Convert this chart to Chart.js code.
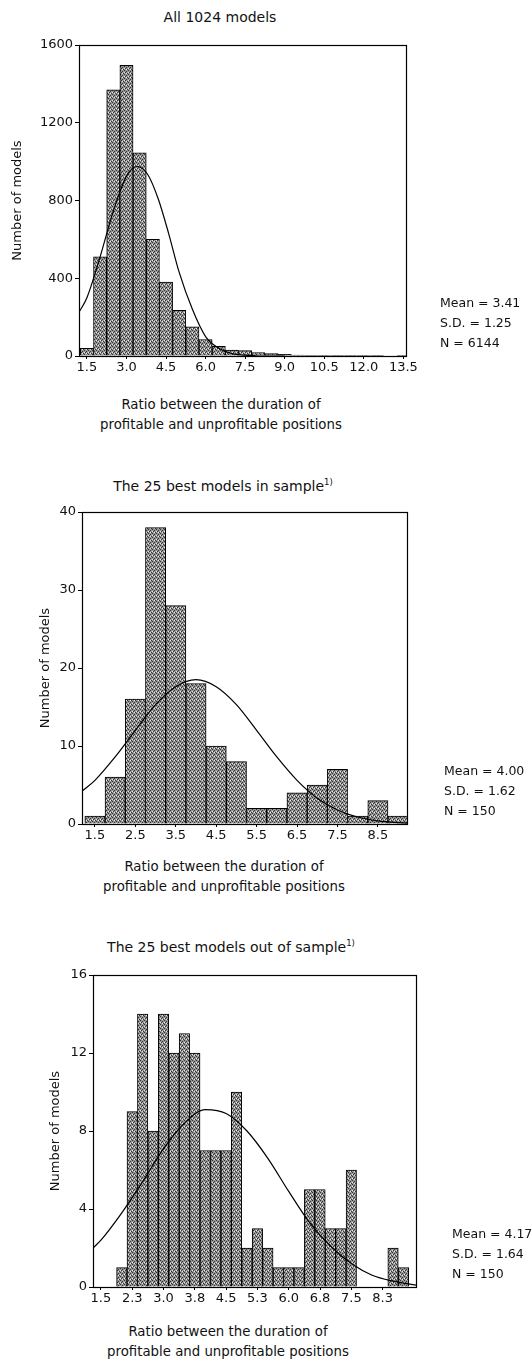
<!DOCTYPE html>
<html>
<head>
<meta charset="utf-8">
<script src="https://cdn.jsdelivr.net/npm/chart.js@4.4.0/dist/chart.umd.min.js"></script>
<style>
    body { margin: 0; background: #fff; }
    #page { position: relative; width: 532px; height: 1363px; overflow: hidden;
            font-family: 'DejaVu Sans', sans-serif; font-size: 12.5px; color: #111; }
    .box { position: absolute; left: 0; width: 532px; }
    .title, .xtitle { position: absolute; text-align: center; line-height: 20px; white-space: nowrap; }
    .title { font-size: 14px; }
    .xtitle { font-size: 13.3px; }
    .stats { position: absolute; line-height: 20px; white-space: nowrap; }
    sup { font-size: 8.5px; vertical-align: 6px; line-height: 0; }
</style>
</head>
<body>
<div id="page">
    <div class="title" style="left:0;width:440px;top:7px">All 1024 models</div>
    <div class="box" style="top:30px;height:351px"><canvas id="c1" width="532" height="351"></canvas></div>
    <div class="stats" style="left:440px;top:293px">Mean = 3.41<br>S.D. = 1.25<br>N = 6144</div>
    <div class="xtitle" style="left:0;width:442px;top:395px">Ratio between the duration of<br>profitable and unprofitable positions</div>

    <div class="title" style="left:0;width:446px;top:476px">The 25 best models in sample<sup>1)</sup></div>
    <div class="box" style="top:497px;height:352px"><canvas id="c2" width="532" height="352"></canvas></div>
    <div class="stats" style="left:444px;top:761px">Mean = 4.00<br>S.D. = 1.62<br>N = 150</div>
    <div class="xtitle" style="left:0;width:448px;top:857px">Ratio between the duration of<br>profitable and unprofitable positions</div>

    <div class="title" style="left:0;width:462px;top:937px">The 25 best models out of sample<sup>1)</sup></div>
    <div class="box" style="top:960px;height:352px"><canvas id="c3" width="532" height="352"></canvas></div>
    <div class="stats" style="left:452px;top:1224px">Mean = 4.17<br>S.D. = 1.64<br>N = 150</div>
    <div class="xtitle" style="left:0;width:456px;top:1322px">Ratio between the duration of<br>profitable and unprofitable positions</div>
</div>

<script>
// All 1024 models (bins of 0.5)
const bins1 = [1.5, 2.0, 2.5, 3.0, 3.5, 4.0, 4.5, 5.0, 5.5, 6.0, 6.5, 7.0, 7.5, 8.0, 8.5, 9.0, 9.5, 10.0, 10.5, 11.0, 11.5, 12.0, 12.5, 13.0, 13.5];
const counts1 = [40, 510, 1370, 1495, 1045, 600, 380, 235, 150, 85, 50, 30, 28, 18, 12, 8, 5, 3, 2, 2, 2, 1, 1, 0, 1];
const curveX1 = [1.2, 1.5, 2.0, 2.5, 3.0, 3.4, 3.8, 4.2, 4.6, 5.0, 5.5, 6.0, 6.5, 7.0, 7.5, 8.0, 9.0];
const curveY1 = [225, 300, 510, 745, 925, 975, 935, 810, 630, 430, 240, 100, 40, 12, 4, 0, 0];
const xTicks1 = [1.5, 3.0, 4.5, 6.0, 7.5, 9.0, 10.5, 12.0, 13.5];
const xLabels1 = ['1.5', '3.0', '4.5', '6.0', '7.5', '9.0', '10.5', '12.0', '13.5'];
const yTicks1 = [0, 400, 800, 1200, 1600];

// The 25 best models in sample (bins of 0.5)
const bins2 = [1.5, 2.0, 2.5, 3.0, 3.5, 4.0, 4.5, 5.0, 5.5, 6.0, 6.5, 7.0, 7.5, 8.0, 8.5, 9.0];
const counts2 = [1, 6, 16, 38, 28, 18, 10, 8, 2, 2, 4, 5, 7, 1, 3, 1];
const curveX2 = [1.18, 1.5, 2.0, 2.5, 3.0, 3.5, 4.0, 4.5, 5.0, 5.5, 6.0, 6.5, 7.0, 7.5, 8.0, 8.5, 9.22];
const curveY2 = [4.2, 5.6, 8.6, 12.0, 15.3, 17.6, 18.5, 17.6, 15.3, 12.0, 8.6, 5.6, 3.3, 1.8, 0.9, 0.4, 0.1];
const xTicks2 = [1.5, 2.5, 3.5, 4.5, 5.5, 6.5, 7.5, 8.5];
const xLabels2 = ['1.5', '2.5', '3.5', '4.5', '5.5', '6.5', '7.5', '8.5'];
const yTicks2 = [0, 10, 20, 30, 40];

// The 25 best models out of sample (bins of 0.25)
const bins3 = [2.0, 2.25, 2.5, 2.75, 3.0, 3.25, 3.5, 3.75, 4.0, 4.25, 4.5, 4.75, 5.0, 5.25, 5.5, 5.75, 6.0, 6.25, 6.5, 6.75, 7.0, 7.25, 7.5, 7.75, 8.0, 8.25, 8.5, 8.75];
const counts3 = [1, 9, 14, 8, 14, 12, 13, 12, 7, 7, 7, 10, 2, 3, 2, 1, 1, 1, 5, 5, 3, 3, 6, 0, 0, 0, 2, 1];
const curveX3 = [1.31, 1.5, 2.0, 2.5, 3.0, 3.5, 4.0, 4.5, 5.0, 5.5, 6.0, 6.5, 7.0, 7.5, 8.0, 8.5, 9.05];
const curveY3 = [2.0, 2.4, 3.8, 5.4, 7.1, 8.4, 9.1, 8.9, 8.0, 6.6, 4.9, 3.3, 2.1, 1.2, 0.6, 0.3, 0.1];
const xTicks3 = [1.5, 2.25, 3.0, 3.75, 4.5, 5.25, 6.0, 6.75, 7.5, 8.25];
const xLabels3 = ['1.5', '2.3', '3.0', '3.8', '4.5', '5.3', '6.0', '6.8', '7.5', '8.3'];
const yTicks3 = [0, 4, 8, 12, 16];

Chart.defaults.font.family = "'DejaVu Sans', sans-serif";
Chart.defaults.font.size = 13;
Chart.defaults.color = '#111';

// grey stippled fill like the printed bars
function stipple() {
    const c = document.createElement('canvas');
    c.width = 4; c.height = 4;
    const g = c.getContext('2d');
    g.fillStyle = '#969696';
    g.fillRect(0, 0, 4, 4);
    g.fillStyle = '#333';
    [[0, 0], [2, 1], [1, 2], [3, 3]].forEach(p => g.fillRect(p[0], p[1], 1, 1));
    g.fillStyle = '#e8e8e8';
    [[2, 3], [0, 2]].forEach(p => g.fillRect(p[0], p[1], 1, 1));
    return g.createPattern(c, 'repeat');
}

// box around the plot area
const framePlugin = {
    id: 'frame',
    afterDraw(chart) {
        const a = chart.chartArea, ctx = chart.ctx;
        ctx.save();
        ctx.strokeStyle = '#000';
        ctx.lineWidth = 1.2;
        ctx.strokeRect(a.left + 0.5, a.top + 0.5, a.right - a.left, a.bottom - a.top);
        ctx.restore();
    }
};

function histogram(id, o) {
    return new Chart(document.getElementById(id), {
        data: {
            datasets: [{
                type: 'line',
                data: o.curveX.map((x, i) => ({ x: x, y: o.curveY[i] })),
                borderColor: '#000',
                borderWidth: 1.2,
                pointRadius: 0,
                cubicInterpolationMode: 'monotone',
                order: 0
            }, {
                type: 'bar',
                data: o.bins.map((x, i) => ({ x: x, y: o.counts[i] })),
                backgroundColor: stipple(),
                borderColor: '#000',
                borderWidth: 1,
                barPercentage: 1,
                categoryPercentage: 1,
                order: 1
            }]
        },
        options: {
            responsive: false,
            animation: false,
            layout: { padding: { top: 15, right: 532 - o.right, left: 0, bottom: 0 } },
            plugins: { legend: { display: false }, tooltip: { enabled: false } },
            scales: {
                x: {
                    type: 'linear',
                    offset: false,
                    min: o.xMin,
                    max: o.xMax,
                    afterBuildTicks: s => { s.ticks = o.xTicks.map(v => ({ value: v })); },
                    afterFit: s => { s.height = 25; },
                    ticks: {
                        autoSkip: false, maxRotation: 0, padding: 1,
                        callback: (v, i) => o.xLabels[i]
                    },
                    grid: { offset: false, drawOnChartArea: false, tickLength: 3, color: '#000' },
                    border: { color: '#000', width: 1 }
                },
                y: {
                    min: 0,
                    max: o.yTicks[o.yTicks.length - 1],
                    afterBuildTicks: s => { s.ticks = o.yTicks.map(v => ({ value: v })); },
                    afterFit: s => { s.width = o.left; },
                    ticks: { padding: 2, callback: v => String(v) },
                    grid: { drawOnChartArea: false, tickLength: 4, color: '#000' },
                    border: { color: '#000', width: 1 },
                    title: {
                        display: true,
                        text: 'Number of models',
                        padding: { top: o.yTitlePad, bottom: 0 }
                    }
                }
            }
        },
        plugins: [framePlugin]
    });
}

histogram('c1', {
    bins: bins1, counts: counts1, curveX: curveX1, curveY: curveY1,
    xTicks: xTicks1, xLabels: xLabels1, yTicks: yTicks1,
    xMin: 1.2, xMax: 13.6, left: 79, right: 406, yTitlePad: 10
});
histogram('c2', {
    bins: bins2, counts: counts2, curveX: curveX2, curveY: curveY2,
    xTicks: xTicks2, xLabels: xLabels2, yTicks: yTicks2,
    xMin: 1.18, xMax: 9.22, left: 82, right: 407, yTitlePad: 38
});
histogram('c3', {
    bins: bins3, counts: counts3, curveX: curveX3, curveY: curveY3,
    xTicks: xTicks3, xLabels: xLabels3, yTicks: yTicks3,
    xMin: 1.31, xMax: 9.05, left: 93, right: 416, yTitlePad: 48
});
</script>
</body>
</html>
